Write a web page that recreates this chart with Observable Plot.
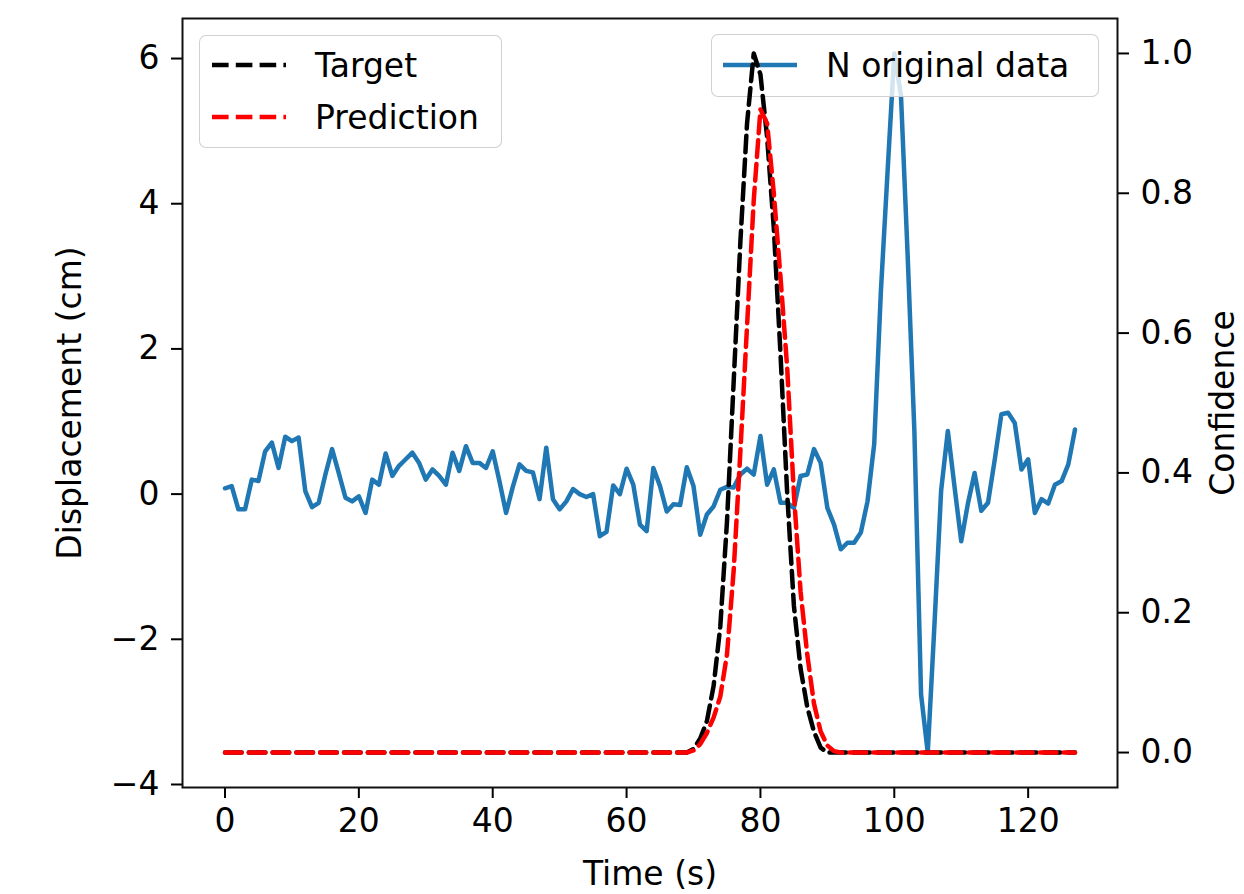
<!DOCTYPE html>
<html><head><meta charset="utf-8">
<script src="https://cdn.jsdelivr.net/npm/d3@7"></script>
<script src="https://cdn.jsdelivr.net/npm/@observablehq/plot@0.6"></script>
<style>
body{margin:0;background:#fff;}
#wrap{position:relative;width:1244px;height:894px;font-family:"DejaVu Sans",sans-serif;background:#fff;}
#wrap > svg{position:absolute;left:0;top:0;}
#wrap .legend{position:absolute;box-sizing:border-box;background:rgba(255,255,255,0.8);border:1.5px solid rgba(200,200,200,0.85);border-radius:7px;font-size:33px;color:#000;}
#wrap .legend .row{position:absolute;display:flex;align-items:center;height:44px;white-space:nowrap;}
#wrap .legend .row svg{position:static;display:block;margin-right:29px;flex:none;}
</style></head>
<body><div id="wrap"></div>
<script>
// ---- data ----
const displacement = [
  0.08, 0.11, -0.21, -0.21, 0.2, 0.18, 0.59, 0.71, 0.36, 0.79,
  0.73, 0.78, 0.04, -0.18, -0.12, 0.27, 0.62, 0.29, -0.05, -0.1,
  -0.03, -0.26, 0.2, 0.13, 0.56, 0.25, 0.39, 0.48, 0.57, 0.43,
  0.2, 0.34, 0.25, 0.13, 0.57, 0.32, 0.66, 0.43, 0.43, 0.36,
  0.59, 0.18, -0.26, 0.1, 0.41, 0.32, 0.3, -0.07, 0.64, -0.07,
  -0.21, -0.1, 0.07, 0.0, -0.04, 0.0, -0.58, -0.52, 0.12, 0.0,
  0.35, 0.13, -0.42, -0.51, 0.36, 0.11, -0.24, -0.14, -0.15, 0.37,
  0.11, -0.56, -0.28, -0.17, 0.06, 0.1, 0.09, 0.27, 0.35, 0.27,
  0.8, 0.13, 0.34, -0.12, -0.12, -0.19, 0.25, 0.27, 0.62, 0.43,
  -0.19, -0.42, -0.76, -0.67, -0.67, -0.53, -0.1, 0.69, 2.8, 4.45,
  6.07, 5.49, 3.28, 0.87, -2.76, -3.56, -1.8, 0.05, 0.87, 0.1,
  -0.65, -0.13, 0.29, -0.23, -0.12, 0.47, 1.1, 1.12, 0.98, 0.34,
  0.48, -0.26, -0.07, -0.13, 0.13, 0.18, 0.41, 0.89
];
const target = [
  0,0,0,0,0,0,0,0,0,0, 0,0,0,0,0,0,0,0,0,0, 0,0,0,0,0,0,0,0,0,0,
  0,0,0,0,0,0,0,0,0,0, 0,0,0,0,0,0,0,0,0,0, 0,0,0,0,0,0,0,0,0,0,
  0,0,0,0,0,0,0,0,0,0,
  0.005, 0.02, 0.045, 0.095, 0.18, 0.33, 0.53, 0.73, 0.9, 1.0,
  0.97, 0.88, 0.75, 0.57, 0.37, 0.21, 0.12, 0.065, 0.03, 0.007,
  0,0,0,0,0,0,0,0,0,0, 0,0,0,0,0,0,0,0,0,0, 0,0,0,0,0,0,0,0,0,0,
  0,0,0,0,0,0,0,0
];
const prediction = [
  0,0,0,0,0,0,0,0,0,0, 0,0,0,0,0,0,0,0,0,0, 0,0,0,0,0,0,0,0,0,0,
  0,0,0,0,0,0,0,0,0,0, 0,0,0,0,0,0,0,0,0,0, 0,0,0,0,0,0,0,0,0,0,
  0,0,0,0,0,0,0,0,0,0,
  0.003, 0.012, 0.028, 0.05, 0.08, 0.14, 0.26, 0.43, 0.61, 0.79,
  0.92, 0.9, 0.8, 0.68, 0.55, 0.37, 0.23, 0.14, 0.07, 0.03,
  0.01, 0.002,
  0,0,0,0,0,0,0,0,0,0, 0,0,0,0,0,0,0,0,0,0, 0,0,0,0,0,0,0,0,0,0,
  0,0,0,0,0,0
];
const time = displacement.map((_, i) => i); // sample index, seconds
const xTicks = [0, 20, 40, 60, 80, 100, 120];
const leftTicks = [-4, -2, 0, 2, 4, 6];
const rightTicks = [0.0, 0.2, 0.4, 0.6, 0.8, 1.0];
const labels = {x: "Time (s)", left: "Displacement (cm)", right: "Confidence"};
const seriesNames = {target: "Target", prediction: "Prediction", original: "N original data"};
const colors = {target: "#000000", prediction: "#ff0000", original: "#1f77b4"};

// ---- table ----
const rows = time.map((t, i) => ({t, disp: displacement[i], target: target[i], pred: prediction[i]}));

// matplotlib-style 5% margins
function padded([a, b]) { const p = (b - a) * 0.05; return [a - p, b + p]; }
const xDomain = padded(d3.extent(time));
const yLeftDomain = padded(d3.extent(displacement));
const yRightDomain = padded([0, 1]);

const W = 1244, H = 894;
const common = {
  width: W, height: H, marginLeft: 182, marginRight: 127, marginTop: 18, marginBottom: 107,
  style: {fontFamily: "DejaVu Sans", fontSize: "33px", color: "black", background: "transparent", overflow: "visible"}
};
const dash = "16.6,7.2";

const plot1 = Plot.plot({
  ...common,
  x: {domain: xDomain},
  y: {domain: yLeftDomain},
  marks: [
    Plot.lineY(rows, {x: "t", y: "disp", stroke: colors.original, strokeWidth: 4.5, strokeLinejoin: "round"}),
    Plot.axisX({ticks: xTicks, tickSize: 11, tickPadding: 10, strokeWidth: 2, tickFormat: d3.format("d"),
      label: labels.x, labelAnchor: "center", labelArrow: "none", labelOffset: 97}),
    Plot.axisY({anchor: "left", ticks: leftTicks, tickSize: 11, tickPadding: 12, strokeWidth: 2, tickFormat: d3.format("d"),
      label: labels.left, labelAnchor: "center", labelArrow: "none", labelOffset: 125}),
    Plot.frame({stroke: "#111", strokeWidth: 2})
  ]
});

const plot2 = Plot.plot({
  ...common,
  x: {domain: xDomain, axis: null},
  y: {domain: yRightDomain},
  marks: [
    Plot.lineY(rows, {x: "t", y: "target", stroke: colors.target, strokeWidth: 4.5, strokeDasharray: dash, strokeLinejoin: "round"}),
    Plot.lineY(rows, {x: "t", y: "pred", stroke: colors.prediction, strokeWidth: 4.5, strokeDasharray: dash, strokeLinejoin: "round"}),
    Plot.axisY({anchor: "right", ticks: rightTicks, tickSize: 11, tickPadding: 12, strokeWidth: 2, tickFormat: d3.format(".1f"),
      label: labels.right, labelAnchor: "center", labelArrow: "none", labelOffset: 116})
  ]
});

function sample(color, dashed) {
  return `<svg width="74" height="10"><line x1="0" y1="5" x2="74" y2="5" stroke="${color}" stroke-width="4.5"${dashed ? ` stroke-dasharray="${dash}"` : ""}/></svg>`;
}

const wrap = document.getElementById("wrap");
wrap.appendChild(plot1);
const legR = document.createElement("div");
legR.className = "legend";
Object.assign(legR.style, {left: "711px", top: "34px", width: "388px", height: "63px"});
legR.innerHTML = `<div class="row" style="left:11px;top:8px">${sample(colors.original, false)}<span>${seriesNames.original}</span></div>`;
wrap.appendChild(legR);
wrap.appendChild(plot2);
const legL = document.createElement("div");
legL.className = "legend";
Object.assign(legL.style, {left: "199px", top: "35px", width: "303px", height: "113px"});
legL.innerHTML = `<div class="row" style="left:12px;top:7px">${sample(colors.target, true)}<span>${seriesNames.target}</span></div>` +
  `<div class="row" style="left:12px;top:59px">${sample(colors.prediction, true)}<span>${seriesNames.prediction}</span></div>`;
wrap.appendChild(legL);
</script>
</body></html>
